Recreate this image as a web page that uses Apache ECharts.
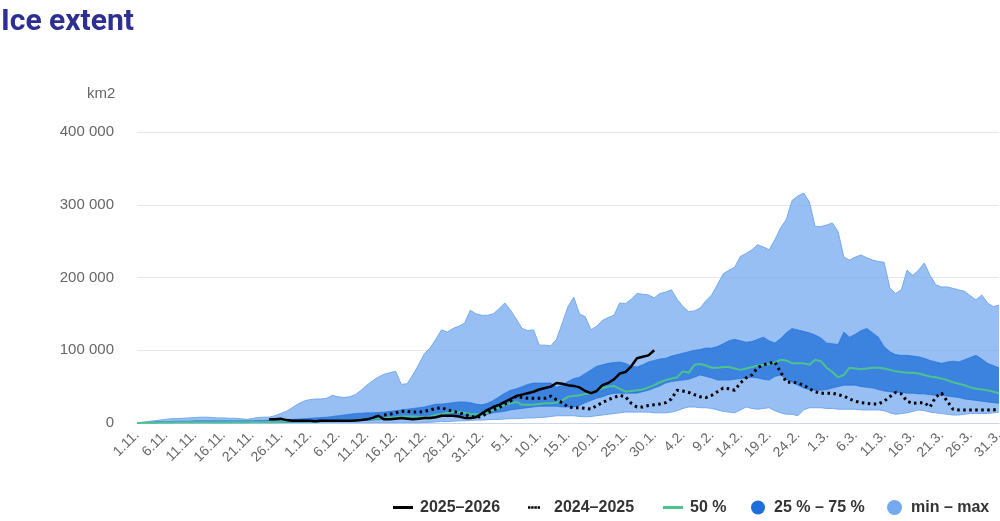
<!DOCTYPE html>
<html>
<head>
<meta charset="utf-8">
<script src="https://cdn.jsdelivr.net/npm/echarts@6/dist/echarts.min.js"></script>
<style>html,body{margin:0;padding:0;background:#fff;overflow:hidden}#c{width:1000px;height:521px}</style>
</head>
<body>
<div id="c"></div>
<script>
// Season months: [month, number of days]
const MONTHS = [[11, 30], [12, 31], [1, 31], [2, 28], [3, 31]];
const CATEGORIES = [];
MONTHS.forEach(([m, n]) => { for (let d = 1; d <= n; d++) CATEGORIES.push(d + '.' + m + '.'); });

const Y_TICKS = [0, 100000, 200000, 300000, 400000];

const MAX = [
0,1000,2000,3000,4000,5000,6000,6000,6500,7000,
7500,8000,8000,7500,7000,7000,6500,6500,6000,5000,
6000,7500,8000,8000,10000,13000,16000,21000,26000,30000,
32000,33000,33000,34000,38000,36000,35000,36000,39000,45000,
52000,58000,63000,67000,69000,71000,53000,54000,66000,80000,
95000,103000,115000,128000,125000,130000,133000,137000,155000,150000,
148000,148000,150000,157000,165000,155000,143000,130000,127000,128000,
107000,107000,106000,115000,137000,160000,173000,150000,146000,128000,
133000,141000,145000,148000,165000,164000,170000,178000,177000,176000,
172000,178000,180000,183000,170000,160000,153000,154000,158000,168000,
176000,190000,205000,210000,214000,229000,233000,238000,245000,242000,
238000,252000,268000,280000,306000,312000,316000,304000,270000,270000,
272000,275000,263000,228000,224000,228000,231000,227000,224000,222000,
221000,186000,178000,183000,210000,203000,210000,220000,203000,190000,
187000,187000,185000,183000,181000,175000,169000,176000,165000,160000,162000];

const MIN = [
0,0,0,0,0,0,0,0,0,0,
0,0,0,0,0,0,0,0,0,0,
0,0,0,0,0,0,0,0,0,0,
0,0,0,0,0,0,0,0,0,0,
0,0,0,0,0,0,0,0,0,0,
500,1000,1500,2000,2000,2500,3000,3000,3500,4000,
4000,4500,5000,5000,5500,6000,6000,6500,7000,7000,
7500,8000,9000,10000,10000,10000,10000,9000,8500,9000,
10000,11000,12000,13000,14000,15000,15000,15000,15000,15000,
14000,14000,14000,15000,17000,20000,22000,22000,21000,21000,
20000,18000,16000,15000,14000,18000,22000,20000,19000,20000,
21000,17000,14000,12000,12000,10000,18000,21000,21000,21000,
20000,20000,19000,19000,19000,19000,18000,18000,18000,18000,
17000,14000,12000,13000,14000,16000,18000,17000,15000,14000,
13000,12000,11000,11000,12000,13000,13000,13000,13000,14000,15000];

const P75 = [
0,500,1000,1500,2000,2000,2000,2500,2500,2500,
3000,3000,3000,3000,3000,3000,3000,3000,3000,3000,
3000,3500,3500,4000,4000,4500,5000,5000,5500,6000,
6500,7000,7500,8000,9000,10000,11000,12000,13000,13500,
14000,14000,14500,15000,16000,17000,18000,19000,20000,21000,
22000,24000,26000,26000,27000,28000,29000,29000,28000,26000,
25000,27000,31000,36000,41000,45000,47000,50000,53000,55000,
55000,55000,55000,49000,52000,57000,61000,63000,68000,73000,
78000,80000,82000,83000,84000,82000,78000,77000,80000,84000,
86000,88000,89000,92000,94000,96000,98000,100000,101000,103000,
103000,105000,109000,113000,115000,113000,111000,112000,115000,118000,
113000,110000,116000,124000,130000,128000,126000,124000,121000,117000,
110000,109000,108000,125000,118000,122000,127000,130000,124000,118000,
105000,98000,94000,93000,93000,92000,91000,89000,86000,84000,
82000,84000,85000,84000,87000,90000,93000,88000,82000,79000,76000];

const P25 = [
0,0,0,0,0,0,0,0,0,0,
0,0,0,0,0,0,0,0,0,0,
0,0,0,0,0,500,500,1000,1000,1000,
1500,1500,2000,2000,2000,2500,2500,3000,3000,3500,
3500,4000,4500,5000,5500,6000,7000,7000,7500,8000,
8000,8500,9000,9000,9500,9500,9500,10000,10000,10000,
11000,12000,14000,15000,16000,18000,19000,20000,21000,22000,
23000,23000,23000,23000,22000,22000,22000,24000,28000,31000,
34000,36000,39000,41000,41000,41000,41000,41000,43000,45000,
48000,51000,55000,57000,58000,59000,60000,63000,66000,64000,
62000,59000,59000,59000,60000,61000,62000,63000,62000,60000,
59000,64000,66000,60000,56000,52000,48000,46000,45000,45000,
46000,48000,50000,52000,52000,52000,50000,49000,48000,46000,
44000,43000,42000,42000,41000,41000,40000,40000,39000,38000,
38000,37000,36000,35000,33000,32000,31000,30000,29000,28000,27000];

const P50 = [
0,200,400,500,600,700,800,900,1000,1000,
1000,1000,1000,1000,1000,1000,1000,1200,1200,1200,
1500,1500,1500,1500,1500,1800,1800,2000,2000,2000,
2000,2200,2400,2600,2800,3000,3000,3000,3500,4000,
5000,6000,6500,7000,7500,8000,9000,9000,9000,8500,
8000,9000,11000,12000,14000,15000,15000,14000,12000,12000,
12000,14000,18000,21000,25000,27000,29000,25000,25000,25000,
26000,27000,27000,28000,31000,36000,37000,38000,40000,41000,
45000,48000,50000,51000,47000,43000,44000,45000,46000,49000,
52000,56000,59000,61000,63000,71000,69000,80000,81000,79000,
76000,76000,77000,77000,75000,73000,75000,77000,79000,80000,
81000,83000,87000,86000,82000,82000,82000,80000,87000,85000,
76000,70000,63000,66000,76000,75000,74000,75000,76000,76000,
75000,73000,71000,70000,69000,69000,68000,66000,64000,63000,
61000,59000,56000,54000,52000,49000,47000,46000,45000,43000,41000];

const CURRENT = [
null,null,null,null,null,null,null,null,null,null,
null,null,null,null,null,null,null,null,null,null,
null,null,null,
5000,5000,6000,4000,3000,3000,3000,3000,2500,3000,
3000,3000,3000,3000,3000,3500,4000,5000,7000,10000,
5000,5000,6000,7000,6000,5000,6000,7000,7000,8000,
10000,10000,10000,9000,7000,7000,8000,13000,18000,22000,
25000,29000,33000,37000,39000,41000,43000,46000,48000,50000,
55000,54000,52000,51000,49000,44000,41000,44000,52000,55000,
60000,68000,70000,78000,89000,91000,93000,100000];

const PREVIOUS = [
null,null,null,null,null,null,null,null,null,null,
null,null,null,null,null,null,null,null,null,null,
null,null,null,null,null,null,null,null,null,null,
null,null,null,null,null,null,null,null,null,null,
null,null,null,
11000,12000,14000,16000,16000,15000,15000,16000,18000,20000,
21000,18000,16000,14000,12000,9000,8000,9000,14000,18000,
21000,26000,30000,37000,35000,34000,34000,34000,34000,37000,
32000,28000,22000,21000,21000,20000,19000,24000,28000,32000,
35000,38000,36000,27000,22000,22000,24000,25000,26000,28000,
33000,45000,44000,42000,39000,36000,35000,38000,43000,48000,
47000,45000,55000,62000,66000,76000,80000,82000,84000,70000,
56000,56000,55000,52000,47000,43000,41000,41000,41000,39000,
37000,33000,30000,28000,27000,26000,26000,30000,36000,42000,
40000,30000,27000,28000,28000,22000,36000,41000,30000,19000,
18000,18000,18000,18000,18000,18000,18000,19000];

const NAMES = { cur: '2025–2026', prev: '2024–2025', med: '50 %', iqr: '25 % – 75 %', range: 'min – max' };

const C_RANGE = '#74a9ef', C_IQR = '#1d6ed8', C_MED = '#4cc38f';

const diff = (a, b) => a.map((v, i) => v - b[i]);

const chart = echarts.init(document.getElementById('c'), null, { renderer: 'canvas' });

const legendBase = (left, name, icon, w, h, color, pad) => ({
  left: left, top: 499, orient: 'horizontal', selectedMode: false, padding: 0,
  itemWidth: w, itemHeight: h, itemGap: 0,
  data: [{ name: name, icon: icon, itemStyle: { color: color, borderWidth: 0 } }],
  textStyle: { fontFamily: 'Liberation Sans', fontWeight: 'bold', fontSize: 16, color: '#333', lineHeight: 17, padding: [0, 0, 0, pad] }
});

chart.setOption({
  animation: false,
  backgroundColor: '#fff',
  textStyle: { fontFamily: 'Liberation Sans' },
  title: [
    { text: 'Ice extent', left: 1, top: 7, padding: 0,
      textStyle: { fontFamily: 'Roboto', fontWeight: 'bold', fontSize: 30, color: '#2d3091' } },
    { text: 'km2', left: 87, top: 86, padding: 0,
      textStyle: { fontFamily: 'Liberation Sans', fontWeight: 'normal', fontSize: 15, color: '#666' } }
  ],
  legend: [
    legendBase(393, NAMES.cur, 'rect', 20, 3, '#000', 2),
    legendBase(528, NAMES.prev, 'path://M0,0h2.5v2.5h-2.5z M3.2,0h2.5v2.5h-2.5z M6.4,0h2.5v2.5h-2.5z M9.6,0h2.5v2.5h-2.5z', 12, 2.5, '#000', 9),
    legendBase(663, NAMES.med, 'rect', 20, 3, C_MED, 2),
    legendBase(751, NAMES.iqr, 'circle', 14, 14, C_IQR, 4),
    legendBase(887, NAMES.range, 'circle', 15, 15, C_RANGE, 4)
  ],
  grid: { left: 137, right: 1, top: 132, bottom: 98, containLabel: false, outerBoundsMode: 'none' },
  xAxis: {
    type: 'category', data: CATEGORIES, boundaryGap: false,
    axisLine: { show: true, lineStyle: { color: '#ccd6eb', width: 1 } },
    axisTick: { show: false },
    splitLine: { show: false },
    axisLabel: { interval: 4, rotate: 45, margin: 10, fontSize: 14, color: '#666', fontFamily: 'Liberation Sans' }
  },
  yAxis: {
    type: 'value', min: Y_TICKS[0], max: Y_TICKS[Y_TICKS.length - 1], interval: Y_TICKS[1] - Y_TICKS[0],
    axisLine: { show: false }, axisTick: { show: false },
    splitLine: { lineStyle: { color: '#e6e6e6', width: 1 } },
    axisLabel: { margin: 23, fontSize: 15, color: '#666', fontFamily: 'Liberation Sans',
      formatter: v => String(v).replace(/\B(?=(\d{3})+(?!\d))/g, ' ') }
  },
  series: [
    { name: 'range-base', type: 'line', stack: 'range', data: MIN, symbol: 'none',
      lineStyle: { color: C_RANGE, width: 1 }, z: 1, silent: true },
    { name: NAMES.range, type: 'line', stack: 'range', data: diff(MAX, MIN), symbol: 'none',
      color: C_RANGE,
      lineStyle: { color: C_RANGE, width: 1 },
      areaStyle: { color: C_RANGE, opacity: 0.75 }, z: 1 },
    { name: 'iqr-base', type: 'line', stack: 'iqr', data: P25, symbol: 'none',
      lineStyle: { color: C_IQR, width: 1, opacity: 0.6 }, z: 2, silent: true },
    { name: NAMES.iqr, type: 'line', stack: 'iqr', data: diff(P75, P25), symbol: 'none',
      color: C_IQR,
      lineStyle: { color: C_IQR, width: 1, opacity: 0.6 },
      areaStyle: { color: C_IQR, opacity: 0.75 }, z: 2 },
    { name: NAMES.med, type: 'line', data: P50, symbol: 'none', color: C_MED,
      lineStyle: { color: C_MED, width: 2 }, z: 3 },
    { name: NAMES.prev, type: 'line', data: PREVIOUS, symbol: 'none', color: '#000',
      lineStyle: { color: '#000', width: 3, type: [2.5, 3.5], cap: 'butt' }, z: 4 },
    { name: NAMES.cur, type: 'line', data: CURRENT, symbol: 'none', color: '#000',
      lineStyle: { color: '#000', width: 2.5 }, z: 5 }
  ]
});
</script>
</body>
</html>
